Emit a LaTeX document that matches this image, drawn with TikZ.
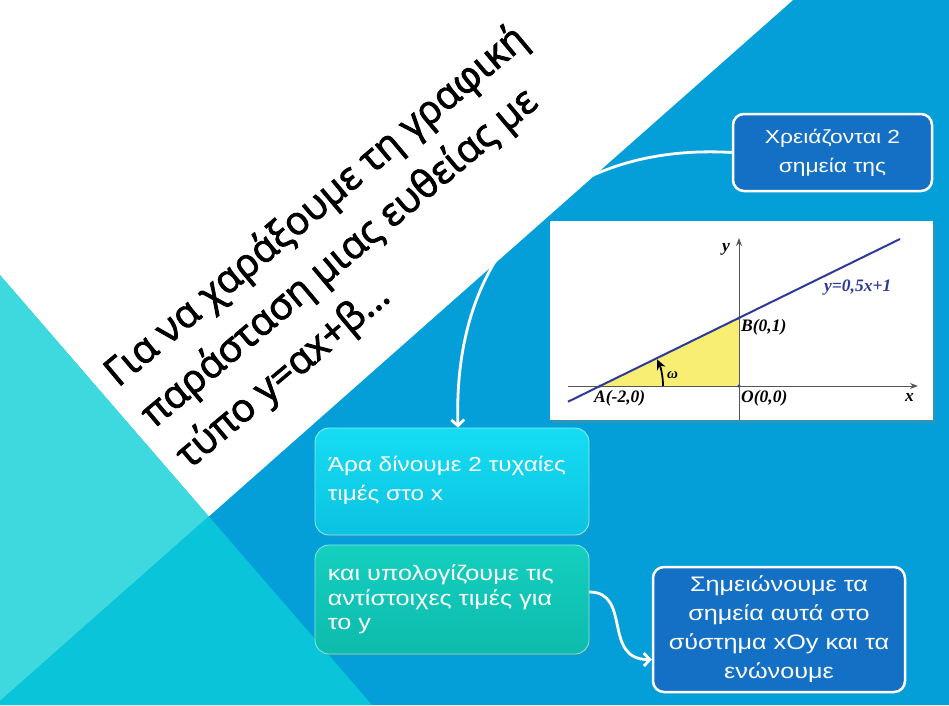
\documentclass[tikz,border=0pt]{standalone}
\usepackage{fontspec}
\setmainfont{Liberation Sans}
\newfontfamily\titlefont[BoldFont={*},BoldFeatures={FakeBold=2.2}]{Open Sans}
\newfontfamily\boxfont[FakeStretch=1.2]{Liberation Sans}
\newfontfamily\graphfont{Liberation Serif}
\usetikzlibrary{arrows.meta,shadows,calc}
\definecolor{bgblue}{HTML}{049FD9}
\definecolor{lteal}{HTML}{3DD9DF}
\definecolor{dteal}{HTML}{0AC5D9}
\definecolor{boxblue}{HTML}{1470C5}
\definecolor{cyantop}{HTML}{16DDF3}
\definecolor{cyanbot}{HTML}{0BC2E0}
\definecolor{tealtop}{HTML}{14CFBF}
\definecolor{tealbot}{HTML}{0DBBAC}
\definecolor{navy}{HTML}{2D3A9C}
\definecolor{yel}{HTML}{F8EE74}
\definecolor{axisgray}{HTML}{555555}
\begin{document}
\begin{tikzpicture}[x=1pt,y=-1pt,
  bluebox/.style={draw=white, line width=2.5pt, fill=boxblue, rounded corners=11pt,
    inner sep=0pt, text=white, align=center},
  cyanbox/.style={rounded corners=14pt, top color=cyantop, bottom color=cyanbot,
    draw=cyantop!50!white, line width=0.8pt, inner sep=0pt,
    drop shadow={opacity=0.25, shadow xshift=1pt, shadow yshift=-2pt}},
  tealbox/.style={rounded corners=14pt, top color=tealtop, bottom color=tealbot,
    draw=tealtop!50!white, line width=0.8pt, inner sep=0pt,
    drop shadow={opacity=0.25, shadow xshift=1pt, shadow yshift=-2pt}},
  boxtext/.style={text=white, align=left, inner sep=0pt},
  titletext/.style={rotate=40, anchor=base west, inner sep=0pt, font=\titlefont\bfseries\fontsize{39}{46}\selectfont},
  glabel/.style={inner sep=0pt, anchor=base west, font=\graphfont\bfseries\itshape\fontsize{17.5}{20}\selectfont},
  axisline/.style={axisgray, line width=1pt, -{Stealth[length=8pt,width=6pt]}},
  flow/.style={white, line width=2.8pt, -{Straight Barb[length=6pt,width=13pt]}},
]
\useasboundingbox (0,0) rectangle (949,705);
% background
\fill[bgblue] (0,0) rectangle (949,705);
\fill[white] (0,0) -- (793,0) -- (208.8,516.4) -- (0,275) -- cycle;
\fill[lteal] (0,275) -- (208.8,516.4) -- (0,701) -- cycle;
\fill[dteal] (0,701) -- (208.8,516.4) -- (372,705) -- (0,705) -- cycle;

% title
\node[titletext] (t1) at (118,388) {Για να χαράξουμε τη γραφική};
\node[titletext] (t2) at (154,429) {παράσταση μιας ευθείας με};
\node[titletext] (t3) at (189,470) {τύπο y=αx+β…};

% graph picture
\node[fill=white, minimum width=383pt, minimum height=199pt, inner sep=0pt,
  drop shadow={opacity=0.35, shadow xshift=2pt, shadow yshift=-3pt}] (graph) at (741.5,320.5) {};
\coordinate (O) at (739,386);
\coordinate (B) at (739,318);
\coordinate (A) at (600,386);
\coordinate (xs) at (568,386);
\coordinate (xe) at (918,386);
\coordinate (ys) at (739,420);
\coordinate (ye) at (739,238);
\coordinate (ls) at (568,401.7);
\coordinate (le) at (900,239);
\fill[yel] (A) -- (B) -- (O) -- cycle;
\draw[axisline] (xs) -- (xe);
\draw[axisline] (ys) -- (ye);
\draw[navy, line width=2pt] (ls) -- (le);
\fill[navy] (A) circle (1.6pt) (B) circle (1.6pt) (O) circle (1.6pt);
\draw[black, line width=1.8pt, -{Stealth[length=10pt,width=9pt,fill=navy]}] (663,386) arc[start angle=0, end angle=-25, radius=63];
\node[glabel] (lA) at (594,402) {A(-2,0)};
\node[glabel] (lB) at (741,331) {B(0,1)};
\node[glabel] (lO) at (741,402) {O(0,0)};
\node[glabel, text=navy] (lf) at (824,291.5) {y=0,5x+1};
\node[glabel] (ly) at (722,251.5) {y};
\node[glabel] (lx) at (905,401.5) {x};
\node[inner sep=0pt, anchor=base west, font=\graphfont\itshape\bfseries\fontsize{15}{18}\selectfont] (lw) at (667,378) {ω};

% boxes
\node[bluebox, minimum width=199pt, minimum height=77pt, font=\boxfont\fontsize{19}{29}\selectfont] (b1) at (832.5,152.5)
  {Χρειάζονται 2\\σημεία της};
\node[cyanbox, minimum width=274pt, minimum height=107pt] (b2) at (452,481.5) {};
\node[boxtext, anchor=west, font=\boxfont\fontsize{20.3}{29}\selectfont] (b2t) at ([xshift=13pt,yshift=1pt]b2.west)
  {Άρα δίνουμε 2 τυχαίες\\τιμές στο x};
\node[tealbox, minimum width=274pt, minimum height=109pt] (b3) at (452,599.5) {};
\node[boxtext, anchor=west, font=\boxfont\fontsize{21}{24.5}\selectfont] (b3t) at ([xshift=13pt,yshift=0pt]b3.west)
  {και υπολογίζουμε τις\\αντίστοιχες τιμές για\\το y};
\node[bluebox, minimum width=252pt, minimum height=125pt, font=\boxfont\fontsize{21}{29}\selectfont] (b4) at (779,629.5)
  {Σημειώνουμε τα\\σημεία αυτά στο\\σύστημα xOy και τα\\ενώνουμε};

% connectors
\coordinate (a1s) at (b1.west);
\coordinate (a1e) at ([xshift=6pt]b2.north);
\draw[flow] (a1s) .. controls (575,143) and (452,235) .. (a1e);
\coordinate (a2s) at ([yshift=7.5pt]b3.east);
\coordinate (a2e) at ([yshift=-30pt]b4.west);
\draw[flow] (a2s) .. controls (632,592) and (602,660) .. (a2e);
\end{tikzpicture}
\end{document}
